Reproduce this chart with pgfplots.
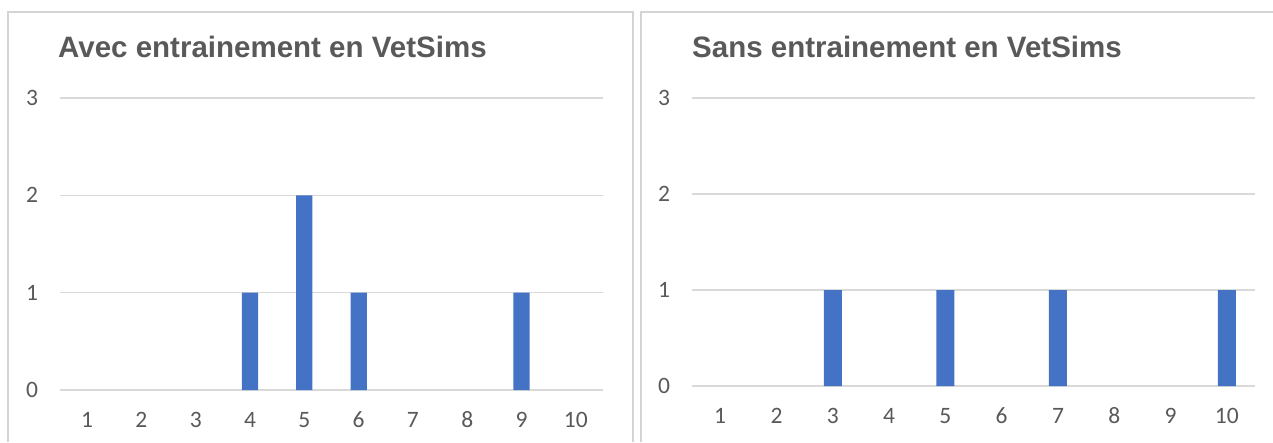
\documentclass[border=0pt]{standalone}
\usepackage{pgfplots}
\pgfplotsset{compat=1.18}
\usepackage{fontspec}
\setmainfont{Carlito}
\newfontfamily\titlefont{Liberation Sans}

\definecolor{barblue}{HTML}{4472C4}
\definecolor{txtgray}{HTML}{595959}
\definecolor{gridgray}{HTML}{D9D9D9}
\definecolor{framegray}{HTML}{D4D4D4}

\pgfplotsset{
  panel/.style={
    scale only axis,
    anchor=south west,
    xmin=0.5, xmax=10.5, ymin=0, ymax=3,
    xtick={1,...,10}, ytick={0,1,2,3},
    ymajorgrids,
    grid style={draw=gridgray, line width=1.3pt},
    axis line style={draw=none},
    major tick length=0pt,
    /pgf/number format/assume math mode=true,
    tick label style={font=\fontsize{23.5}{27}\selectfont, text=txtgray},
    yticklabel style={anchor=center, xshift=-28pt},
    xticklabel style={anchor=center, yshift=-30pt},
    ybar,
  },
}

\begin{document}
\begin{tikzpicture}
  \useasboundingbox (0pt,0pt) rectangle (1273pt,442pt);

  % panel frames (cut at the bottom)
  \draw[framegray, line width=1.3pt] (8pt,0pt) -- (8pt,430pt) -- (633pt,430pt) -- (633pt,0pt);
  \draw[framegray, line width=1.3pt] (641pt,0pt) -- (641pt,430pt) -- (1273pt,430pt);

  % titles
  \node[anchor=base west, inner sep=0pt, text=txtgray,
        font=\titlefont\bfseries\fontsize{29.5}{33}\selectfont]
    at (58pt,384pt) {Avec entrainement en VetSims};
  \node[anchor=base west, inner sep=0pt, text=txtgray,
        font=\titlefont\bfseries\fontsize{29.5}{33}\selectfont]
    at (692pt,384pt) {Sans entrainement en VetSims};

  % left: with training (categories with 0 are not drawn)
  \begin{axis}[panel, at={(60pt,52pt)}, width=543pt, height=292pt, bar width=0.3]
    \addplot[fill=barblue, draw=none] coordinates {
      (4,1) (5,2) (6,1) (9,1)
    };
  \end{axis}

  % right: without training
  \begin{axis}[panel, at={(692pt,56pt)}, width=563pt, height=288pt, bar width=0.32]
    \addplot[fill=barblue, draw=none] coordinates {
      (3,1) (5,1) (7,1) (10,1)
    };
  \end{axis}
\end{tikzpicture}
\end{document}
